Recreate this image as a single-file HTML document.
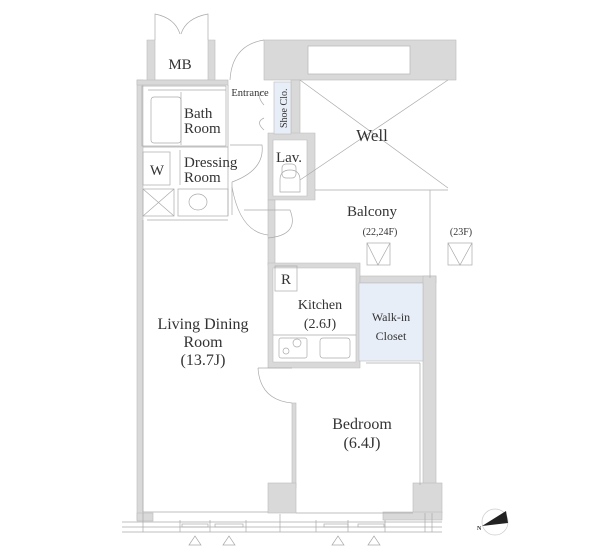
<!DOCTYPE html>
<html><head><meta charset="utf-8"><style>
html,body{margin:0;padding:0;background:#fff;}
svg{display:block;}
text{font-family:"Liberation Serif",serif;fill:#333;}
</style></head><body>
<svg width="600" height="557" viewBox="0 0 600 557" xmlns="http://www.w3.org/2000/svg">
<g fill="#d9d9d9" stroke="#bbb" stroke-width="0.6">
<!-- MB -->
<path d="M147 40 H155 V80 H208 V40 H215 V82 H147 Z"/>
<!-- left outer wall + top -->
<rect x="137" y="80" width="6" height="440"/>
<rect x="137" y="80" width="91" height="5"/>
<!-- top block -->
<rect x="264" y="40" width="192" height="40"/>
<rect x="291" y="80" width="9" height="55"/>
<!-- lav box -->
<path d="M268 133 H315 V200 H268 Z M273 140 V196 H307 V140 Z" fill-rule="evenodd"/>
<!-- wall left of balcony -->
<rect x="268" y="200" width="7" height="65"/>
<!-- kitchen box -->
<path d="M268 263 H360 V368 H268 Z M273 268 V362 H356 V268 Z" fill-rule="evenodd"/>
<rect x="360" y="276" width="76" height="7"/>
<!-- right wall -->
<rect x="423" y="276" width="13" height="210"/>
<rect x="413" y="483" width="29" height="30"/>
<!-- bedroom wall -->
<rect x="292" y="403" width="4" height="85"/>
<rect x="268" y="483" width="28" height="30"/>
<rect x="137" y="513" width="16" height="8"/>
<rect x="383" y="512" width="59" height="8"/>
</g>
<g fill="#fff" stroke="#bbb" stroke-width="0.8">
<rect x="308" y="46" width="102" height="28"/>
</g>
<!-- walk-in closet -->
<rect x="359" y="283" width="64" height="78" fill="#e8eef7" stroke="#bbb" stroke-width="0.6"/>
<!-- shoe clo -->
<rect x="274" y="82" width="17" height="52" fill="#e8eef7" stroke="#bbb" stroke-width="0.6"/>
<g fill="none" stroke="#aaa" stroke-width="0.7">
<!-- MB doors -->
<path d="M155 40 V14 Q175 18 180 34 M208 40 V14 Q186 18 181 34"/>
<!-- well X -->
<path d="M300 80 L448 188 M448 80 L300 180 M315 190 H448"/>
<path d="M430 190 V278"/>
<!-- bath -->
<rect x="142" y="86" width="84" height="60"/>
<rect x="151" y="97" width="30" height="46" rx="3"/>
<path d="M181 92 V145 M148 90 H226"/>
<!-- W -->
<rect x="143" y="152" width="27" height="33"/>
<rect x="143" y="189" width="31" height="27"/>
<path d="M143 189 L174 216 M174 189 L143 216"/>
<rect x="178" y="189" width="50" height="27"/>
<ellipse cx="198" cy="202" rx="9" ry="8"/>
<path d="M228 147 H143 M180 150 V185"/>
<!-- doors -->
<path d="M264 40 Q232 45 230 80 M228 85 V216"/>
<path d="M264 91 Q255 95 264 105 M264 118 Q255 122 264 130"/>
<path d="M230 145 H262 Q265 170 232 182 M232 182 V215"/>
<path d="M232 187 Q240 232 268 235 M244 210 H290 Q300 235 268 238"/>
<!-- lav toilet -->
<path d="M280 192 V180 Q280 170 290 170 Q300 170 300 180 V192 Z"/>
<rect x="282" y="164" width="14" height="14" rx="4"/>
<!-- balcony vents -->
<rect x="367" y="243" width="23" height="22"/><path d="M367 243 L378 265 L390 243"/>
<rect x="448" y="243" width="24" height="22"/><path d="M448 243 L460 265 L472 243"/>
<!-- R box -->
<rect x="275" y="266" width="22" height="25"/>
<path d="M273 335 H356"/>
<rect x="279" y="338" width="28" height="20" rx="2"/>
<circle cx="297" cy="343" r="4"/><circle cx="286" cy="351" r="3"/>
<rect x="320" y="338" width="30" height="20" rx="3"/>
<!-- LDR inner line -->
<path d="M143 220 V512 H268 M147 220 H228"/>
<!-- bedroom door -->
<path d="M258 368 Q260 400 292 403 M258 368 H292"/>
<path d="M296 513 H413 M366 363 H420 M420 363 V485"/>
<!-- bottom windows -->
<path d="M122 522 H442 M122 527 H442 M122 532 H442"/>
<path d="M143 513 V532 M180 520 V532 M210 520 V532 M246 520 V532 M280 514 V532 M316 520 V532 M348 520 V532 M385 520 V532 M425 513 V532 M432 513 V532"/>
<rect x="182" y="524" width="26" height="3"/><rect x="215" y="524" width="28" height="3"/>
<rect x="324" y="524" width="24" height="3"/><rect x="358" y="524" width="26" height="3"/>
<path d="M189 545 L195 536 L201 545 Z M223 545 L229 536 L235 545 Z M332 545 L338 536 L344 545 Z M368 545 L374 536 L380 545 Z"/>
<circle cx="495" cy="522" r="13" stroke="#ccc"/>
</g>
<path d="M482 526 L506 511 L508 523 Z" fill="#222"/>
<text x="477" y="530" font-size="6" font-weight="bold">N</text>
<text x="180" y="69" font-size="15" text-anchor="middle">MB</text>
<text x="250" y="96" font-size="10.5" text-anchor="middle">Entrance</text>
<text transform="translate(287,128) rotate(-90)" font-size="10">Shoe Clo.</text>
<text x="184" y="118" font-size="15">Bath</text>
<text x="184" y="133" font-size="15">Room</text>
<text x="157" y="175" font-size="15" text-anchor="middle">W</text>
<text x="184" y="167" font-size="15">Dressing</text>
<text x="184" y="182" font-size="15">Room</text>
<text x="289" y="162" font-size="15" text-anchor="middle">Lav.</text>
<text x="372" y="141" font-size="17" text-anchor="middle">Well</text>
<text x="372" y="216" font-size="15" text-anchor="middle">Balcony</text>
<text x="380" y="235" font-size="10" text-anchor="middle">(22,24F)</text>
<text x="461" y="235" font-size="10" text-anchor="middle">(23F)</text>
<text x="286" y="284" font-size="15" text-anchor="middle">R</text>
<text x="320" y="309" font-size="14" text-anchor="middle">Kitchen</text>
<text x="320" y="328" font-size="14" text-anchor="middle">(2.6J)</text>
<text x="391" y="321" font-size="12" text-anchor="middle">Walk-in</text>
<text x="391" y="340" font-size="12" text-anchor="middle">Closet</text>
<text x="203" y="329" font-size="16" text-anchor="middle">Living Dining</text>
<text x="203" y="347" font-size="16" text-anchor="middle">Room</text>
<text x="203" y="365" font-size="16" text-anchor="middle">(13.7J)</text>
<text x="362" y="429" font-size="16" text-anchor="middle">Bedroom</text>
<text x="362" y="448" font-size="16" text-anchor="middle">(6.4J)</text>
</svg>
</body></html>
